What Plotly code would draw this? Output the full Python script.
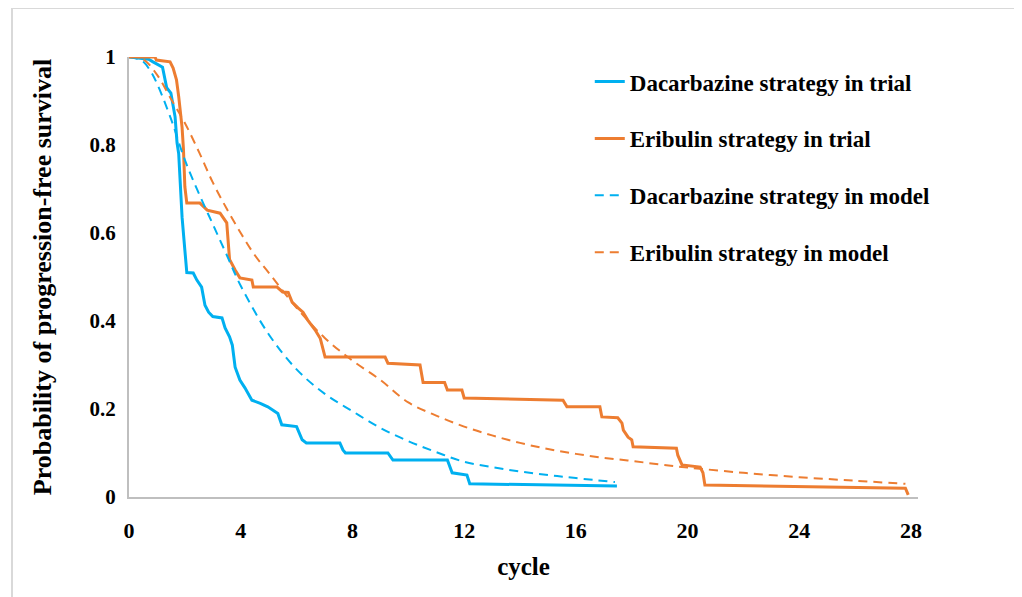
import plotly.graph_objects as go

# ---- data ----
dac_trial_t = [0, 0.7, 0.86, 1.2, 1.35, 1.5, 1.65, 1.72, 1.78, 1.83, 1.9, 2.0, 2.07, 2.3, 2.43, 2.6,
               2.72, 2.85, 3.0, 3.33, 3.44, 3.6, 3.7, 3.8, 3.97, 4.15, 4.4, 4.7, 4.97, 5.33, 5.47,
               6.0, 6.2, 6.35, 7.55, 7.66, 7.75, 9.27, 9.45, 11.4, 11.57, 12.1, 12.2, 17.47]
dac_trial_s = [1, 0.995, 0.989, 0.977, 0.93, 0.918, 0.864, 0.805, 0.78, 0.714, 0.636, 0.561, 0.51,
               0.509, 0.493, 0.477, 0.436, 0.42, 0.41, 0.407, 0.384, 0.364, 0.345, 0.295, 0.266,
               0.248, 0.22, 0.213, 0.205, 0.19, 0.164, 0.16, 0.13, 0.123, 0.123, 0.107, 0.1, 0.1,
               0.084, 0.084, 0.055, 0.05, 0.03, 0.025]

eri_trial_t = [0, 0.93, 0.98, 1.47, 1.58, 1.7, 1.78, 1.9, 1.95, 2.0, 2.07, 2.54, 2.8, 3.26, 3.5,
               3.6, 3.8, 3.97, 4.4, 4.45, 5.3, 5.5, 5.7, 5.84, 6.05, 6.23, 6.4, 6.66, 6.85, 6.95,
               7.02, 9.17, 9.27, 10.42, 10.53, 11.3, 11.4, 11.92, 12.0, 15.54, 15.68, 16.86, 16.93,
               17.5, 17.65, 17.7, 17.87, 18.0, 18.05, 19.6, 19.65, 19.8, 20.45, 20.55, 20.62,
               27.8, 27.9]
eri_trial_s = [1, 1, 0.993, 0.989, 0.975, 0.948, 0.91, 0.84, 0.79, 0.705, 0.668, 0.668, 0.652,
               0.645, 0.623, 0.54, 0.516, 0.498, 0.493, 0.477, 0.477, 0.466, 0.465, 0.443, 0.43,
               0.42, 0.402, 0.38, 0.36, 0.334, 0.318, 0.318, 0.304, 0.3, 0.26, 0.26, 0.243, 0.243,
               0.225, 0.22, 0.205, 0.205, 0.182, 0.18, 0.168, 0.152, 0.136, 0.13, 0.114, 0.111,
               0.095, 0.073, 0.068, 0.055, 0.027, 0.02, 0.005]

dac_model_t = [0, 0.25, 0.5, 0.75, 1.0, 1.5, 2, 2.5, 3, 3.5, 4, 5, 6, 7, 8, 9, 10, 11, 12, 13, 14,
               15, 16, 17.4]
dac_model_s = [1, 0.997, 0.99, 0.97, 0.94, 0.86, 0.766, 0.69, 0.62, 0.55, 0.48, 0.37, 0.29, 0.235,
               0.195, 0.157, 0.127, 0.102, 0.08, 0.068, 0.058, 0.05, 0.043, 0.034]

eri_model_t = [0, 0.5, 1.0, 1.5, 2, 2.5, 3, 3.5, 4, 4.5, 5, 6, 7, 8, 9, 10, 11, 12, 13, 14, 15,
               16, 17, 18, 19, 20, 22, 24, 26, 27.8]
eri_model_s = [1, 0.995, 0.96, 0.905, 0.85, 0.785, 0.715, 0.655, 0.6, 0.55, 0.51, 0.43, 0.362,
               0.31, 0.266, 0.215, 0.185, 0.16, 0.14, 0.123, 0.109, 0.098, 0.089, 0.082, 0.074,
               0.067, 0.055, 0.045, 0.037, 0.03]

series_names = ["Dacarbazine strategy in trial", "Eribulin strategy in trial",
                "Dacarbazine strategy in model", "Eribulin strategy in model"]
x_ticks = [0, 4, 8, 12, 16, 20, 24, 28]
y_ticks = [0, 0.2, 0.4, 0.6, 0.8, 1]
y_ticktext = ["0", "0.2", "0.4", "0.6", "0.8", "1"]

BLUE = "#00b0f0"
ORANGE = "#ed7d31"
FONT = "Liberation Serif"

fig = go.Figure()
fig.add_trace(go.Scatter(x=dac_trial_t, y=dac_trial_s, mode="lines", name=series_names[0],
                         line=dict(color=BLUE, width=3), legendgroup="a"))
fig.add_trace(go.Scatter(x=eri_trial_t, y=eri_trial_s, mode="lines", name=series_names[1],
                         line=dict(color=ORANGE, width=3), legendgroup="b"))
fig.add_trace(go.Scatter(x=dac_model_t, y=dac_model_s, mode="lines", name=series_names[2],
                         line=dict(color=BLUE, width=2, dash="9px,6px", shape="spline"),
                         legendgroup="c"))
fig.add_trace(go.Scatter(x=eri_model_t, y=eri_model_s, mode="lines", name=series_names[3],
                         line=dict(color=ORANGE, width=2, dash="9px,6px", shape="spline"),
                         legendgroup="d"))

fig.update_layout(
    width=1022, height=597,
    margin=dict(l=121, r=112, t=49, b=108),
    paper_bgcolor="white", plot_bgcolor="white",
    font=dict(family=FONT, size=20, color="black"),
    showlegend=True,
    legend=dict(x=0.584, y=0.993, xanchor="left", yanchor="top", bgcolor="rgba(0,0,0,0)",
                font=dict(family=FONT, size=23, color="black", weight="bold"),
                tracegroupgap=24),
    xaxis=dict(range=[0, 28.25], tickmode="array", tickvals=x_ticks,
               showgrid=False, zeroline=False, showline=True, linecolor="#bfbfbf", linewidth=2,
               ticks="outside", ticklen=13, tickcolor="rgba(0,0,0,0)",
               tickfont=dict(family=FONT, size=22, color="black", weight="bold"),
               title=dict(text="cycle", font=dict(family=FONT, size=25, color="black", weight="bold"),
                          standoff=15)),
    yaxis=dict(range=[0, 1], tickmode="array", tickvals=y_ticks, ticktext=y_ticktext,
               showgrid=False, zeroline=False, showline=True, linecolor="#bfbfbf", linewidth=2,
               ticks="outside", ticklen=7, tickcolor="rgba(0,0,0,0)",
               tickfont=dict(family=FONT, size=21, color="black", weight="bold"),
               title=dict(text="Probability of progression-free survival",
                          font=dict(family=FONT, size=26, color="black", weight="bold"),
                          standoff=30)),
    shapes=[dict(type="rect", xref="paper", yref="paper",
                 x0=(12 - 129) / 789, x1=(1017 - 129) / 789,
                 y0=(497 - 640) / 440, y1=(497 - 8) / 440,
                 line=dict(color="#d9d9d9", width=2), fillcolor="rgba(0,0,0,0)", layer="below")],
)

fig.write_html("out.html")
